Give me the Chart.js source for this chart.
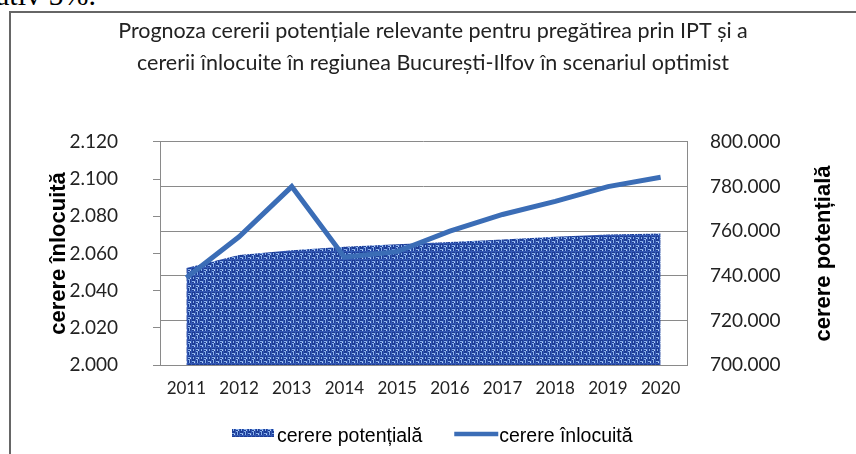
<!DOCTYPE html>
<html>
<head>
<meta charset="utf-8">
<script src="https://cdn.jsdelivr.net/npm/chart.js@4"></script>
<style>
  html, body { margin:0; padding:0; background:#fff; overflow:hidden; }
  #wrap { position:relative; width:856px; height:454px; }
  #chart-box { position:absolute; left:0; top:0; width:856px; height:454px; }
  #frame {
    position:absolute; left:9px; top:11px; right:-4px; bottom:-4px;
    border-left:2px solid #666; border-top:2px solid #666;
    pointer-events:none;
  }
  #doc-text {
    position:absolute; left:-4px; top:-20px;
    font:30px "Liberation Serif", serif; line-height:30px; color:#000;
    white-space:nowrap;
  }
</style>
</head>
<body>
<div id="wrap">
  <div id="doc-text">ativ 5%.</div>
  <div id="frame"></div>
  <div id="chart-box"><canvas id="c"></canvas></div>
</div>
<script>
// --- data ------------------------------------------------------------------
const years = ['2011', '2012', '2013', '2014', '2015', '2016', '2017', '2018', '2019', '2020'];
const cererePotentiala = [743500, 749300, 751500, 753000, 754200, 755200, 756300, 757500, 758500, 759000];
const cerereInlocuita = [2047, 2069, 2096, 2058, 2061, 2072, 2081, 2088, 2096, 2101];

const titleLines = [
  'Prognoza cererii potențiale relevante pentru pregătirea prin IPT și a',
  'cererii înlocuite în regiunea București-Ilfov în scenariul optimist'
];
const leftTitle = 'cerere înlocuită';
const rightTitle = 'cerere potențială';
const seriesNames = ['cerere potențială', 'cerere înlocuită'];

// romanian grouping: 2.120 / 800.000
const fmt = v => String(Math.round(v)).replace(/\B(?=(\d{3})+(?!\d))/g, '.');

// woven "denim" texture used by Excel for the area series
function makeWeave() {
  const tile = document.createElement('canvas');
  tile.width = 8; tile.height = 8;
  const t = tile.getContext('2d');
  t.fillStyle = '#1d3d95';
  t.fillRect(0, 0, 8, 8);
  t.fillStyle = '#3358b4';
  t.fillRect(0, 3, 8, 1);
  t.fillRect(3, 0, 1, 8);
  t.fillRect(7, 0, 1, 8);
  t.fillStyle = '#86aeea';
  t.fillRect(0, 1, 3, 1);
  t.fillRect(4, 5, 3, 1);
  t.fillRect(5, 0, 1, 3);
  t.fillRect(1, 5, 1, 2);
  t.fillRect(4, 7, 2, 1);
  t.fillStyle = '#b9d2f6';
  t.fillRect(6, 6, 1, 1);
  t.fillRect(2, 2, 1, 1);
  return t.createPattern(tile, 'repeat');
}

const ctx = document.getElementById('c').getContext('2d');
const weave = makeWeave();
const lineBlue = '#3b6db6';
const gridGray = '#8a8a8a';

// right-hand axis title (reads bottom-to-top like the left one) and legend
const extras = {
  id: 'extras',
  afterDraw(chart) {
    const c = chart.ctx;
    const area = chart.chartArea;

    c.save();
    c.font = 'bold 22px "Liberation Sans", Arial, sans-serif';
    c.fillStyle = '#000';
    c.textAlign = 'center';
    c.textBaseline = 'middle';
    c.translate(chart.scales.y1.right - 32, (area.top + area.bottom) / 2);
    c.rotate(-Math.PI / 2);
    c.fillText(rightTitle, 0, 0);
    c.restore();

    c.save();
    c.font = '19.5px "Liberation Sans", Arial, sans-serif';
    c.textBaseline = 'alphabetic';
    let x = 232;
    const base = 442;
    // area swatch
    c.fillStyle = weave;
    c.fillRect(x, 429, 42, 8);
    x += 45;
    c.fillStyle = '#000';
    c.fillText(chart.data.datasets[0].label, x, base);
    x += c.measureText(chart.data.datasets[0].label).width + 32;
    // line swatch
    c.strokeStyle = lineBlue;
    c.lineWidth = 4.5;
    c.beginPath();
    c.moveTo(x, 434);
    c.lineTo(x + 44, 434);
    c.stroke();
    x += 45;
    c.fillText(chart.data.datasets[1].label, x, base);
    c.restore();
  }
};

new Chart(ctx, {
  type: 'line',
  data: {
    labels: years,
    datasets: [
      {
        label: seriesNames[0],
        data: cererePotentiala,
        yAxisID: 'y1',
        order: 1,
        fill: 'start',
        backgroundColor: weave,
        borderWidth: 0,
        pointRadius: 0,
        tension: 0
      },
      {
        label: seriesNames[1],
        data: cerereInlocuita,
        yAxisID: 'y',
        order: 0,
        fill: false,
        borderColor: lineBlue,
        borderWidth: 5,
        borderJoinStyle: 'miter',
        pointRadius: 0,
        tension: 0
      }
    ]
  },
  options: {
    responsive: true,
    maintainAspectRatio: false,
    animation: false,
    layout: { padding: { left: 10, right: 0, top: 0, bottom: 0 } },
    plugins: {
      legend: { display: false },
      tooltip: { enabled: false },
      title: {
        display: true,
        text: titleLines,
        color: '#222',
        font: { family: 'Lato', size: 21.5, weight: 'normal', lineHeight: 1.488 },
        padding: { top: 15, bottom: 63 }
      }
    },
    scales: {
      x: {
        offset: true,
        grid: { display: false, drawTicks: false },
        border: { display: true, color: gridGray, width: 1 },
        ticks: {
          color: '#222',
          padding: 13,
          maxRotation: 0,
          font: { family: 'Lato', size: 17 }
        },
        afterFit: s => { s.height = 89; }
      },
      y: {
        position: 'left',
        min: 2000,
        max: 2120,
        grid: { drawOnChartArea: false, drawTicks: true, tickLength: 7, color: gridGray },
        border: { display: true, color: gridGray, width: 1 },
        ticks: {
          stepSize: 20,
          color: '#222',
          padding: 35,
          font: { family: 'Lato', size: 19 },
          callback: v => fmt(v)
        },
        title: {
          display: true,
          text: leftTitle,
          color: '#000',
          font: { family: 'Liberation Sans', size: 22, weight: 'bold' },
          padding: { top: 36, bottom: 0 }
        },
        afterFit: s => { s.width = 150; }
      },
      y1: {
        position: 'right',
        min: 700000,
        max: 800000,
        grid: { drawOnChartArea: true, drawTicks: false, color: gridGray },
        border: { display: true, color: gridGray, width: 1 },
        ticks: {
          stepSize: 20000,
          color: '#222',
          padding: 23,
          font: { family: 'Lato', size: 19 },
          callback: v => fmt(v)
        },
        afterFit: s => { s.width = 169; }
      }
    }
  },
  plugins: [extras]
});
</script>
</body>
</html>
